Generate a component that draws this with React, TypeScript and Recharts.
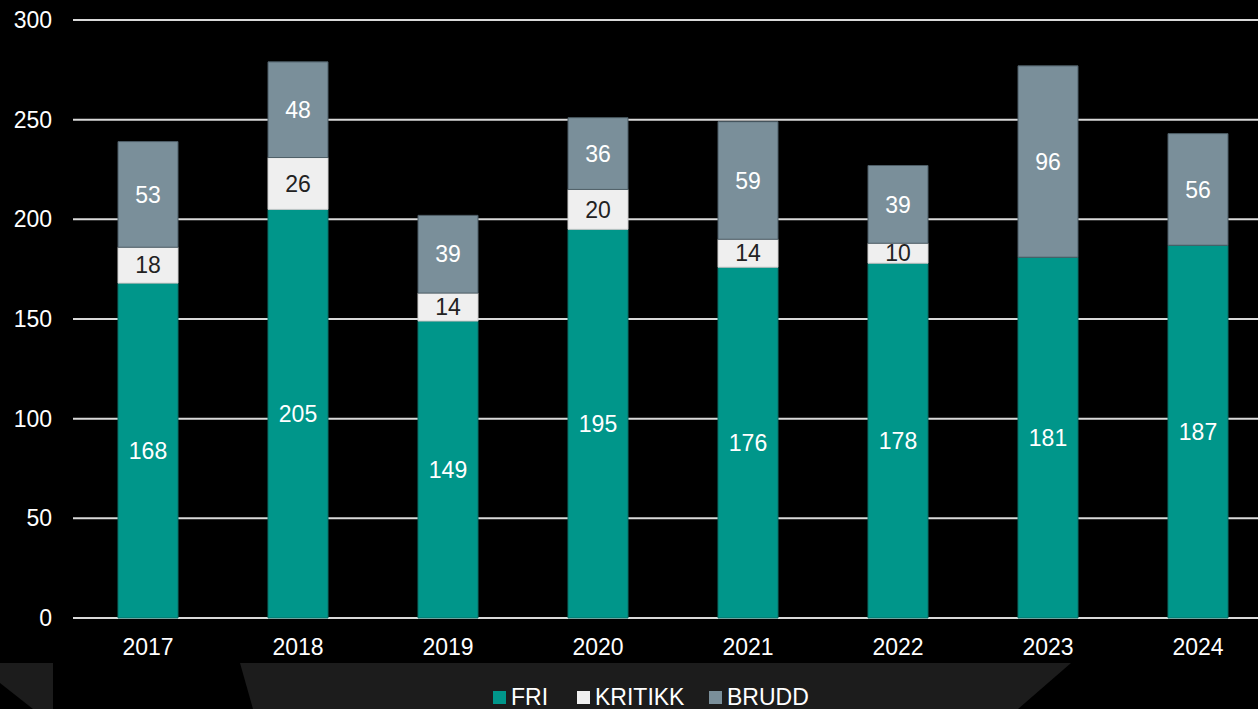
import { Bar, BarChart, CartesianGrid, LabelList, Legend, XAxis, YAxis } from "recharts";

const years = ["2017", "2018", "2019", "2020", "2021", "2022", "2023", "2024"];
const fri = [168, 205, 149, 195, 176, 178, 181, 187];
const kritikk = [18, 26, 14, 20, 14, 10, 0, 0];
const brudd = [53, 48, 39, 36, 59, 39, 96, 56];
const yTicks = [0, 50, 100, 150, 200, 250, 300];

const data = years.map((year, i) => ({ year, FRI: fri[i], KRITIKK: kritikk[i], BRUDD: brudd[i] }));

const FONT = "'Liberation Sans', Arial, sans-serif";
const FS = 23;
const colors = { FRI: "#00968a", KRITIKK: "#efefef", BRUDD: "#7a8f9a" };

const hideZero = (v: any) => (v ? v : "");

// legend squares sit at fixed x positions like in the source slide
const legendItems = [
  { name: "FRI", color: colors.FRI, x: 493 },
  { name: "KRITIKK", color: colors.KRITIKK, x: 577 },
  { name: "BRUDD", color: colors.BRUDD, x: 709 },
];

function LegendContent() {
  return (
    <div style={{ position: "relative", height: 46, fontFamily: FONT, fontSize: FS, lineHeight: "24px", color: "#fff" }}>
      {legendItems.map((it) => (
        <div key={it.name} style={{ position: "absolute", left: it.x, top: 22, display: "flex", alignItems: "center", whiteSpace: "nowrap" }}>
          <span style={{ width: 13, height: 13, background: it.color, marginRight: 5, display: "inline-block" }} />
          <span>{it.name}</span>
        </div>
      ))}
    </div>
  );
}

export default function App() {
  return (
    <div style={{ position: "fixed", left: 0, top: 0, width: 1258, height: 709, overflow: "hidden", background: "#000", fontFamily: FONT }}>
      <svg width={1258} height={709} style={{ position: "absolute", left: 0, top: 0 }}>
        <polygon points="0,663 53,663 53,709 33,709 0,683" fill="#1c1c1c" />
        <polygon points="240,663 1071,663 1018,709 253,709" fill="#1c1c1c" />
      </svg>
      <div style={{ position: "absolute", left: 0, top: 0 }}>
        <BarChart width={1290} height={709} data={data} margin={{ top: 20, right: 17, left: 0, bottom: 0 }} barSize={60}>
          <CartesianGrid horizontal vertical={false} stroke="#d9d9d9" strokeWidth={2} />
          <XAxis dataKey="year" height={45} tickLine={false} axisLine={false} tickSize={0} tickMargin={21}
            tick={{ fill: "#fff", fontSize: FS, fontFamily: FONT }} />
          <YAxis width={73} domain={[0, 300]} ticks={yTicks} tickLine={false} axisLine={false} tickSize={0} tickMargin={21}
            tick={{ fill: "#fff", fontSize: FS, fontFamily: FONT }} interval={0} />
          <Legend verticalAlign="bottom" content={() => <LegendContent />} />
          <Bar dataKey="FRI" stackId="a" fill={colors.FRI} stroke="#0b6f66" strokeWidth={1} isAnimationActive={false}>
            <LabelList dataKey="FRI" position="center" fill="#fff" fontSize={FS} fontFamily={FONT} formatter={hideZero} />
          </Bar>
          <Bar dataKey="KRITIKK" stackId="a" fill={colors.KRITIKK} stroke="#cfcfcf" strokeWidth={1} isAnimationActive={false}>
            <LabelList dataKey="KRITIKK" position="center" fill="#222" fontSize={FS} fontFamily={FONT} formatter={hideZero} />
          </Bar>
          <Bar dataKey="BRUDD" stackId="a" fill={colors.BRUDD} stroke="#4d5d66" strokeWidth={1} isAnimationActive={false}>
            <LabelList dataKey="BRUDD" position="center" fill="#fff" fontSize={FS} fontFamily={FONT} formatter={hideZero} />
          </Bar>
        </BarChart>
      </div>
    </div>
  );
}
